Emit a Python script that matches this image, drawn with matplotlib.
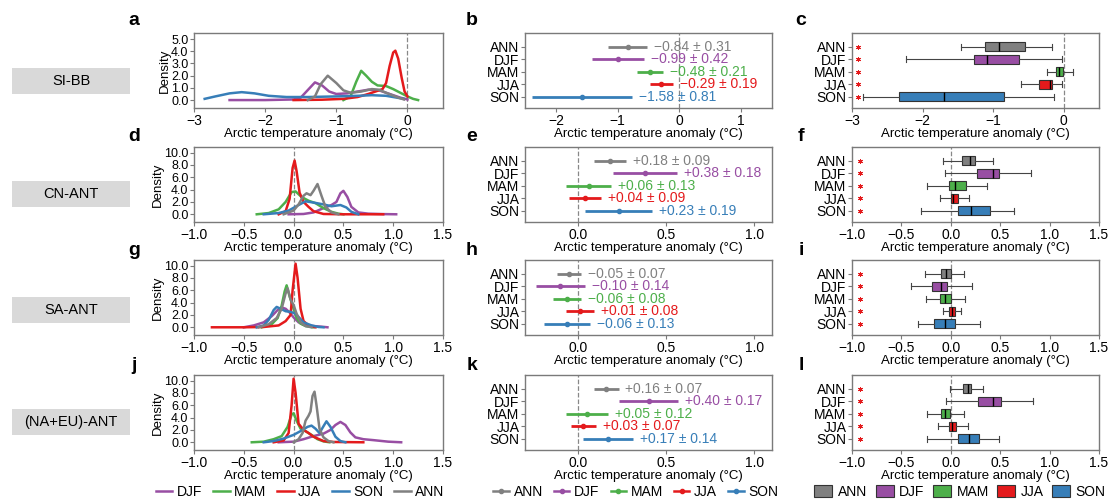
import matplotlib
matplotlib.use('Agg')
import matplotlib.pyplot as plt
from matplotlib.patches import Rectangle, Patch
from matplotlib.lines import Line2D

plt.rcParams['font.family'] = ['Liberation Sans', 'DejaVu Sans']

# Parameters
W, H = 1110, 501
seasons = ['ANN', 'DJF', 'MAM', 'JJA', 'SON']
colors = {'ANN': '#808080', 'DJF': '#984ea3', 'MAM': '#4daf4a', 'JJA': '#e41a1c', 'SON': '#377eb8'}
regions = ['SI-BB', 'CN-ANT', 'SA-ANT', '(NA+EU)-ANT']
xlabel = 'Arctic temperature anomaly (°C)'

# ---- Density curves ----
# SI-BB
sibb_DJF_x = [-2.5, -2.0, -1.6, -1.5, -1.42, -1.3, -1.2, -1.1, -1.0, -0.85, -0.7, -0.55, -0.4, -0.25, -0.1, 0.0]
sibb_DJF_y = [0.0, 0.0, 0.05, 0.2, 0.7, 1.45, 1.2, 0.7, 0.5, 0.55, 0.7, 0.85, 0.8, 0.5, 0.2, 0.05]
sibb_MAM_x = [-0.9, -0.8, -0.72, -0.65, -0.58, -0.5, -0.42, -0.3, -0.2, -0.1, 0.0, 0.08, 0.15]
sibb_MAM_y = [0.0, 0.3, 1.5, 2.4, 2.0, 1.5, 1.2, 1.15, 0.9, 0.6, 0.3, 0.1, 0.0]
sibb_JJA_x = [-1.6, -1.2, -0.9, -0.7, -0.55, -0.45, -0.35, -0.3, -0.25, -0.2, -0.17, -0.13, -0.08, -0.04, 0.0]
sibb_JJA_y = [0.0, 0.03, 0.1, 0.25, 0.5, 0.7, 0.9, 1.4, 2.8, 3.9, 4.05, 3.4, 1.8, 0.7, 0.3]
sibb_SON_x = [-2.85, -2.7, -2.5, -2.33, -2.15, -1.95, -1.7, -1.4, -1.0, -0.7, -0.5, -0.3, -0.15, -0.05]
sibb_SON_y = [0.1, 0.3, 0.55, 0.65, 0.55, 0.35, 0.25, 0.25, 0.3, 0.35, 0.4, 0.35, 0.2, 0.1]
sibb_ANN_x = [-1.4, -1.3, -1.22, -1.12, -1.0, -0.9, -0.8, -0.65, -0.5, -0.4, -0.3, -0.15, -0.05]
sibb_ANN_y = [0.0, 0.3, 1.3, 2.0, 1.4, 0.8, 0.6, 0.7, 0.9, 0.85, 0.6, 0.25, 0.05]

# CN-ANT
cn_DJF_x = [-0.05, 0.1, 0.2, 0.3, 0.38, 0.43, 0.47, 0.5, 0.54, 0.58, 0.65, 0.75, 0.9, 1.03]
cn_DJF_y = [0.0, 0.05, 0.3, 1.0, 1.5, 2.0, 3.4, 3.8, 2.8, 1.2, 0.3, 0.1, 0.03, 0.0]
cn_MAM_x = [-0.37, -0.25, -0.15, -0.08, -0.02, 0.02, 0.08, 0.15, 0.22, 0.3, 0.38, 0.45, 0.5]
cn_MAM_y = [0.0, 0.2, 0.8, 2.0, 3.6, 3.7, 2.8, 2.2, 1.8, 1.0, 0.4, 0.1, 0.0]
cn_JJA_x = [-0.15, -0.08, -0.04, -0.01, 0.01, 0.03, 0.06, 0.1, 0.15, 0.2, 0.3, 0.5, 0.9]
cn_JJA_y = [0.0, 0.5, 2.5, 7.5, 8.7, 7.0, 3.5, 2.0, 1.2, 0.5, 0.05, 0.0, 0.0]
cn_SON_x = [-0.3, -0.15, -0.05, 0.05, 0.12, 0.2, 0.3, 0.38, 0.47, 0.53, 0.58, 0.65]
cn_SON_y = [0.0, 0.2, 0.6, 1.5, 2.1, 1.9, 1.6, 1.3, 1.5, 1.1, 0.4, 0.0]
cn_ANN_x = [-0.1, 0.0, 0.05, 0.1, 0.13, 0.17, 0.2, 0.24, 0.28, 0.32, 0.38, 0.45]
cn_ANN_y = [0.0, 0.6, 1.6, 3.0, 3.4, 3.1, 3.8, 4.9, 3.0, 1.2, 0.3, 0.0]

# SA-ANT
sa_DJF_x = [-0.5, -0.4, -0.3, -0.22, -0.16, -0.12, -0.08, -0.04, 0.0, 0.05, 0.1, 0.2, 0.28, 0.34]
sa_DJF_y = [0.0, 0.3, 0.8, 1.8, 2.8, 3.2, 3.0, 2.4, 1.6, 0.8, 0.4, 0.2, 0.1, 0.0]
sa_MAM_x = [-0.32, -0.22, -0.16, -0.12, -0.09, -0.07, -0.04, 0.0, 0.03, 0.07, 0.12, 0.2]
sa_MAM_y = [0.0, 0.5, 1.5, 3.5, 5.8, 6.8, 5.0, 3.0, 1.5, 0.6, 0.2, 0.0]
sa_JJA_x = [-0.82, -0.5, -0.3, -0.15, -0.08, -0.03, -0.01, 0.02, 0.04, 0.07, 0.1, 0.15, 0.22]
sa_JJA_y = [0.0, 0.0, 0.05, 0.3, 1.0, 2.0, 6.0, 10.3, 8.0, 3.0, 1.0, 0.3, 0.0]
sa_SON_x = [-0.37, -0.3, -0.25, -0.2, -0.17, -0.13, -0.08, -0.03, 0.02, 0.06, 0.1, 0.18, 0.25, 0.3]
sa_SON_y = [0.0, 0.3, 1.2, 2.8, 3.3, 3.0, 2.6, 2.5, 2.2, 1.5, 0.8, 0.3, 0.05, 0.0]
sa_ANN_x = [-0.35, -0.25, -0.17, -0.12, -0.08, -0.06, -0.03, 0.0, 0.03, 0.07, 0.12, 0.18]
sa_ANN_y = [0.0, 0.5, 1.5, 3.0, 5.5, 6.3, 4.5, 3.6, 2.2, 0.8, 0.2, 0.0]

# (NA+EU)-ANT
naeu_DJF_x = [-0.15, 0.0, 0.1, 0.2, 0.3, 0.37, 0.42, 0.47, 0.52, 0.57, 0.62, 0.7, 0.8, 0.95, 1.08]
naeu_DJF_y = [0.0, 0.1, 0.5, 1.0, 1.4, 2.0, 2.8, 3.3, 2.8, 1.6, 0.8, 0.5, 0.35, 0.1, 0.0]
naeu_MAM_x = [-0.42, -0.3, -0.2, -0.12, -0.06, -0.02, 0.0, 0.03, 0.07, 0.12, 0.18, 0.24, 0.3, 0.36]
naeu_MAM_y = [0.0, 0.1, 0.5, 1.0, 2.5, 4.5, 4.7, 3.5, 2.2, 1.8, 1.2, 0.5, 0.15, 0.0]
naeu_JJA_x = [-0.2, -0.1, -0.05, -0.02, 0.0, 0.02, 0.05, 0.1, 0.15, 0.2, 0.3, 0.4, 0.7]
naeu_JJA_y = [0.0, 0.3, 1.5, 6.0, 10.3, 8.0, 3.0, 2.0, 1.5, 0.9, 0.2, 0.05, 0.0]
naeu_SON_x = [-0.3, -0.2, -0.1, 0.0, 0.08, 0.14, 0.18, 0.22, 0.26, 0.3, 0.33, 0.37, 0.42, 0.47, 0.52]
naeu_SON_y = [0.0, 0.2, 0.6, 1.2, 1.9, 2.5, 2.7, 2.2, 1.5, 2.6, 3.4, 2.5, 0.9, 0.2, 0.0]
naeu_ANN_x = [0.0, 0.05, 0.09, 0.12, 0.15, 0.17, 0.19, 0.21, 0.23, 0.26, 0.3, 0.35, 0.4]
naeu_ANN_y = [0.0, 0.5, 1.5, 3.5, 4.3, 5.0, 7.5, 8.2, 6.0, 2.2, 0.8, 0.2, 0.0]

# ---- Mean +- spread (order ANN, DJF, MAM, JJA, SON) ----
sibb_mean = [-0.84, -0.99, -0.48, -0.29, -1.58]
sibb_err = [0.31, 0.42, 0.21, 0.19, 0.81]
cn_mean = [0.18, 0.38, 0.06, 0.04, 0.23]
cn_err = [0.09, 0.18, 0.13, 0.09, 0.19]
sa_mean = [-0.05, -0.10, -0.06, 0.01, -0.06]
sa_err = [0.07, 0.14, 0.08, 0.08, 0.13]
naeu_mean = [0.16, 0.40, 0.05, 0.03, 0.17]
naeu_err = [0.07, 0.17, 0.12, 0.07, 0.14]

# ---- Box plot stats (order ANN, DJF, MAM, JJA, SON) ----
sibb_lo = [-1.46, -2.23, -0.24, -0.60, -2.84]
sibb_q1 = [-1.12, -1.27, -0.11, -0.35, -2.33]
sibb_med = [-0.92, -1.08, -0.07, -0.20, -1.70]
sibb_q3 = [-0.55, -0.63, -0.01, -0.17, -0.84]
sibb_hi = [-0.16, -0.02, 0.13, -0.02, -0.14]

cn_lo = [-0.08, -0.06, -0.24, -0.11, -0.30]
cn_q1 = [0.11, 0.27, -0.02, 0.00, 0.07]
cn_med = [0.195, 0.43, 0.04, 0.02, 0.20]
cn_q3 = [0.24, 0.49, 0.15, 0.07, 0.40]
cn_hi = [0.43, 0.81, 0.37, 0.18, 0.64]

sa_lo = [-0.26, -0.40, -0.25, -0.08, -0.33]
sa_q1 = [-0.10, -0.19, -0.11, -0.02, -0.17]
sa_med = [-0.05, -0.10, -0.06, 0.01, -0.06]
sa_q3 = [0.00, -0.04, 0.00, 0.04, 0.04]
sa_hi = [0.13, 0.21, 0.14, 0.10, 0.30]

naeu_lo = [-0.005, -0.05, -0.24, -0.125, -0.24]
naeu_q1 = [0.12, 0.28, -0.095, -0.02, 0.07]
naeu_med = [0.17, 0.43, -0.06, 0.01, 0.18]
naeu_q3 = [0.20, 0.505, -0.01, 0.055, 0.285]
naeu_hi = [0.33, 0.835, 0.13, 0.17, 0.49]

# Group per region for the loops
kde = [
    {'DJF': (sibb_DJF_x, sibb_DJF_y), 'MAM': (sibb_MAM_x, sibb_MAM_y), 'JJA': (sibb_JJA_x, sibb_JJA_y),
     'SON': (sibb_SON_x, sibb_SON_y), 'ANN': (sibb_ANN_x, sibb_ANN_y)},
    {'DJF': (cn_DJF_x, cn_DJF_y), 'MAM': (cn_MAM_x, cn_MAM_y), 'JJA': (cn_JJA_x, cn_JJA_y),
     'SON': (cn_SON_x, cn_SON_y), 'ANN': (cn_ANN_x, cn_ANN_y)},
    {'DJF': (sa_DJF_x, sa_DJF_y), 'MAM': (sa_MAM_x, sa_MAM_y), 'JJA': (sa_JJA_x, sa_JJA_y),
     'SON': (sa_SON_x, sa_SON_y), 'ANN': (sa_ANN_x, sa_ANN_y)},
    {'DJF': (naeu_DJF_x, naeu_DJF_y), 'MAM': (naeu_MAM_x, naeu_MAM_y), 'JJA': (naeu_JJA_x, naeu_JJA_y),
     'SON': (naeu_SON_x, naeu_SON_y), 'ANN': (naeu_ANN_x, naeu_ANN_y)},
]
means = [sibb_mean, cn_mean, sa_mean, naeu_mean]
errs = [sibb_err, cn_err, sa_err, naeu_err]
boxes = [
    (sibb_lo, sibb_q1, sibb_med, sibb_q3, sibb_hi),
    (cn_lo, cn_q1, cn_med, cn_q3, cn_hi),
    (sa_lo, sa_q1, sa_med, sa_q3, sa_hi),
    (naeu_lo, naeu_q1, naeu_med, naeu_q3, naeu_hi),
]

letters = ['abc', 'def', 'ghi', 'jkl']
row_tops = [33, 147, 260, 375]
letter_base = [25, 141, 255, 370]
box_centers = [81, 194, 310, 422]
spine_col = '#7a7a7a'


def axes_at(x0, top, w, h=75):
    return fig.add_axes([x0 / W, 1 - (top + h) / H, w / W, h / H])


def style(ax, xlim, xticks, xfmt):
    ax.set_xlim(*xlim)
    ax.set_xticks(xticks)
    ax.set_xticklabels([xfmt(v).replace('-', '\u2212') for v in xticks], fontsize=10)
    for s in ax.spines.values():
        s.set_color(spine_col)
        s.set_linewidth(1.0)
    ax.tick_params(colors=spine_col, labelcolor='black', length=3, width=0.8, pad=1)
    ax.axvline(0, color='#888888', linestyle='--', linewidth=0.9, zorder=0)
    ax.set_xlabel(xlabel, fontsize=9.5, labelpad=0)


fig = plt.figure(figsize=(W / 100, H / 100), dpi=100)

for r in range(4):
    top = row_tops[r]
    first = (r == 0)

    # Density panel
    ax = axes_at(194, top, 249)
    for s in ['DJF', 'MAM', 'JJA', 'SON', 'ANN']:
        xs, ys = kde[r][s]
        ax.plot(xs, ys, color=colors[s], linewidth=1.8)
    if first:
        style(ax, (-3, 0.5), [-3, -2, -1, 0], lambda v: f"{v:d}")
        ax.set_ylim(-0.65, 5.5)
        yt = [0, 1, 2, 3, 4, 5]
    else:
        style(ax, (-1, 1.5), [-1.0, -0.5, 0.0, 0.5, 1.0, 1.5], lambda v: f"{v:.1f}")
        ax.set_ylim(-1.25, 10.9)
        yt = [0, 2, 4, 6, 8, 10]
    ax.set_yticks(yt)
    ax.set_yticklabels([f"{v:.1f}" for v in yt], fontsize=9)
    ax.set_ylabel('Density', fontsize=9.5, labelpad=0)

    # Mean +- spread panel
    ax = axes_at(525, top, 247)
    for i, s in enumerate(seasons):
        m, e = means[r][i], errs[r][i]
        ax.errorbar(m, i, xerr=e, fmt='o', color=colors[s], ms=3, elinewidth=2, capsize=0)
        txt = f"{m:+.2f} \u00b1 {e:.2f}".replace('-', '\u2212')
        ax.annotate(txt, xy=(m + e, i), xytext=(5, 0), textcoords='offset points',
                    va='center', ha='left', color=colors[s], fontsize=10)
    if first:
        style(ax, (-2.5, 1.5), [-2, -1, 0, 1], lambda v: f"{v:d}")
    else:
        style(ax, (-0.3, 1.1), [0.0, 0.5, 1.0], lambda v: f"{v:.1f}")
    ax.set_ylim(4.9, -1.1)
    ax.set_yticks(range(5))
    ax.set_yticklabels(seasons, fontsize=10)

    # Box plot panel
    ax = axes_at(852, top, 247)
    lo, q1, med, q3, hi = boxes[r]
    stats = [dict(whislo=lo[i], q1=q1[i], med=med[i], q3=q3[i], whishi=hi[i], fliers=[])
             for i in range(5)]
    bp = ax.bxp(stats, positions=range(5), orientation='horizontal', widths=0.7, capwidths=0.45,
                patch_artist=True, showfliers=False,
                boxprops=dict(edgecolor='#333333', linewidth=0.8),
                medianprops=dict(color='black', linewidth=1.0),
                whiskerprops=dict(color='#444444', linewidth=0.8),
                capprops=dict(color='#444444', linewidth=0.8))
    for patch, s in zip(bp['boxes'], seasons):
        patch.set_facecolor(colors[s])
    if first:
        style(ax, (-3, 0.5), [-3, -2, -1, 0], lambda v: f"{v:d}")
        star_x = -2.92
    else:
        style(ax, (-1, 1.5), [-1.0, -0.5, 0.0, 0.5, 1.0, 1.5], lambda v: f"{v:.1f}")
        star_x = -0.92
    for i in range(5):
        ax.plot(star_x, i, marker=(6, 2, 0), color='#e41a1c', ms=3.5, mew=0.7)
    ax.set_ylim(4.9, -1.1)
    ax.set_yticks(range(5))
    ax.set_yticklabels(seasons, fontsize=10)

    # Panel letters
    for x, l in zip([134, 472, 801], letters[r]):
        fig.text(x / W, 1 - letter_base[r] / H, l, fontsize=14, fontweight='bold',
                 ha='center', va='baseline')

    # Region label box
    bh = 26
    fig.patches.append(Rectangle((12 / W, 1 - (box_centers[r] + bh / 2) / H), 118 / W, bh / H,
                                 transform=fig.transFigure, facecolor='#d9d9d9', edgecolor='none'))
    fig.text(71 / W, 1 - box_centers[r] / H, regions[r], fontsize=10.5, ha='center', va='center')

# Legends at the bottom
leg_y = 1 - 492 / H
h1 = [Line2D([], [], color=colors[s], linewidth=1.8) for s in ['DJF', 'MAM', 'JJA', 'SON', 'ANN']]
fig.legend(h1, ['DJF', 'MAM', 'JJA', 'SON', 'ANN'], loc='center', bbox_to_anchor=(300 / W, leg_y),
           ncol=5, frameon=False, fontsize=10, handlelength=1.2, handletextpad=0.3,
           columnspacing=0.8, borderpad=0.2)
h2 = [Line2D([], [], color=colors[s], linewidth=1.8, marker='o', ms=3) for s in seasons]
fig.legend(h2, seasons, loc='center', bbox_to_anchor=(636 / W, leg_y),
           ncol=5, frameon=False, fontsize=10, handlelength=1.1, handletextpad=0.35,
           columnspacing=0.8, borderpad=0.2)
h3 = [Patch(facecolor=colors[s], edgecolor='#333333', linewidth=0.8) for s in seasons]
fig.legend(h3, seasons, loc='center', bbox_to_anchor=(960 / W, leg_y),
           ncol=5, frameon=False, fontsize=10, handlelength=1.3, handleheight=0.9,
           handletextpad=0.4, columnspacing=0.6, borderpad=0.2)

plt.savefig('out.png', dpi=100)
